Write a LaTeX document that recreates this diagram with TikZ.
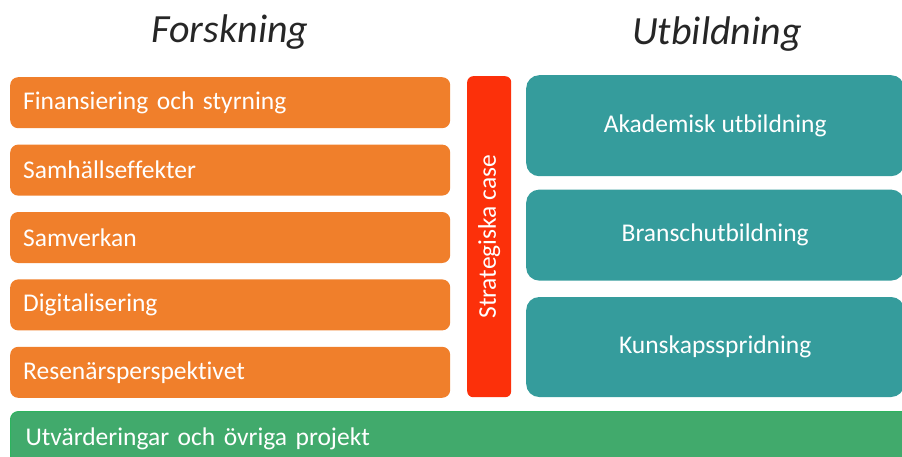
\documentclass[tikz,border=0pt]{standalone}
\usepackage{fontspec}
\setmainfont{Carlito}[Ligatures=NoCommon]
\usetikzlibrary{positioning}

\definecolor{forskorange}{HTML}{F07F2B}
\definecolor{casered}{HTML}{FC300A}
\definecolor{utbteal}{HTML}{359C9C}
\definecolor{ovrgreen}{HTML}{41AA6C}
\definecolor{ovrline}{HTML}{2DB35E}

\tikzset{
	rubrik/.style={font=\itshape\fontsize{40}{46}\selectfont,text=black!85},
	boxfont/.style={font=\fontsize{25.5}{30}\selectfont},
	forskbox/.style={boxfont,fill=forskorange,rounded corners=8pt,text=white,
		minimum height=51pt,inner xsep=13pt,text width=414pt,align=left},
	utbbox/.style={boxfont,fill=utbteal,rounded corners=13pt,text=white,
		minimum width=378pt,align=center},
}

\begin{document}
\begin{tikzpicture}[x=1pt,y=-1pt]
	\useasboundingbox (0,0) rectangle (902,456);
	\clip (0,0) rectangle (902,456);
	
	% rubriker
	\node[rubrik] (forsk) at (230,32) {Forskning};
	\node[rubrik] (utb) at (717,34) {Utbildning};
	
	% forskning
	\node[forskbox,anchor=north west] (fin) at (10,77) {Finansiering och styrning};
	\node[forskbox,below=16pt of fin] (sam) {Samhällseffekter};
	\node[forskbox,below=16pt of sam] (samv) {Samverkan};
	\node[forskbox,below=16pt of samv] (dig) {Digitalisering};
	\node[forskbox,below=16pt of dig] (res) {Resenärsperspektivet};
	
	% strategiska case
	\node[fill=casered,rounded corners=6pt,minimum width=44pt,minimum height=321pt,anchor=north west] (case) at (467,76) {};
	\node[boxfont,rotate=90,text=white] (casetxt) at (case.center) {Strategiska case};
	
	% utbildning
	\node[utbbox,minimum height=101pt,anchor=north west] (akad) at (526,75) {Akademisk utbildning};
	\node[utbbox,minimum height=91pt,below=13pt of akad] (bransch) {Branschutbildning};
	\node[utbbox,minimum height=100pt,below=16pt of bransch] (kunskap) {Kunskapsspridning};
	
	% ovriga projekt
	\node[boxfont,fill=ovrgreen,draw=ovrline,line width=1pt,rounded corners=8pt,minimum height=54pt,
		inner xsep=15pt,text width=870pt,align=left,text=white,anchor=north west] (ovr) at (10,411) {Utvärderingar och övriga projekt};
\end{tikzpicture}
\end{document}
